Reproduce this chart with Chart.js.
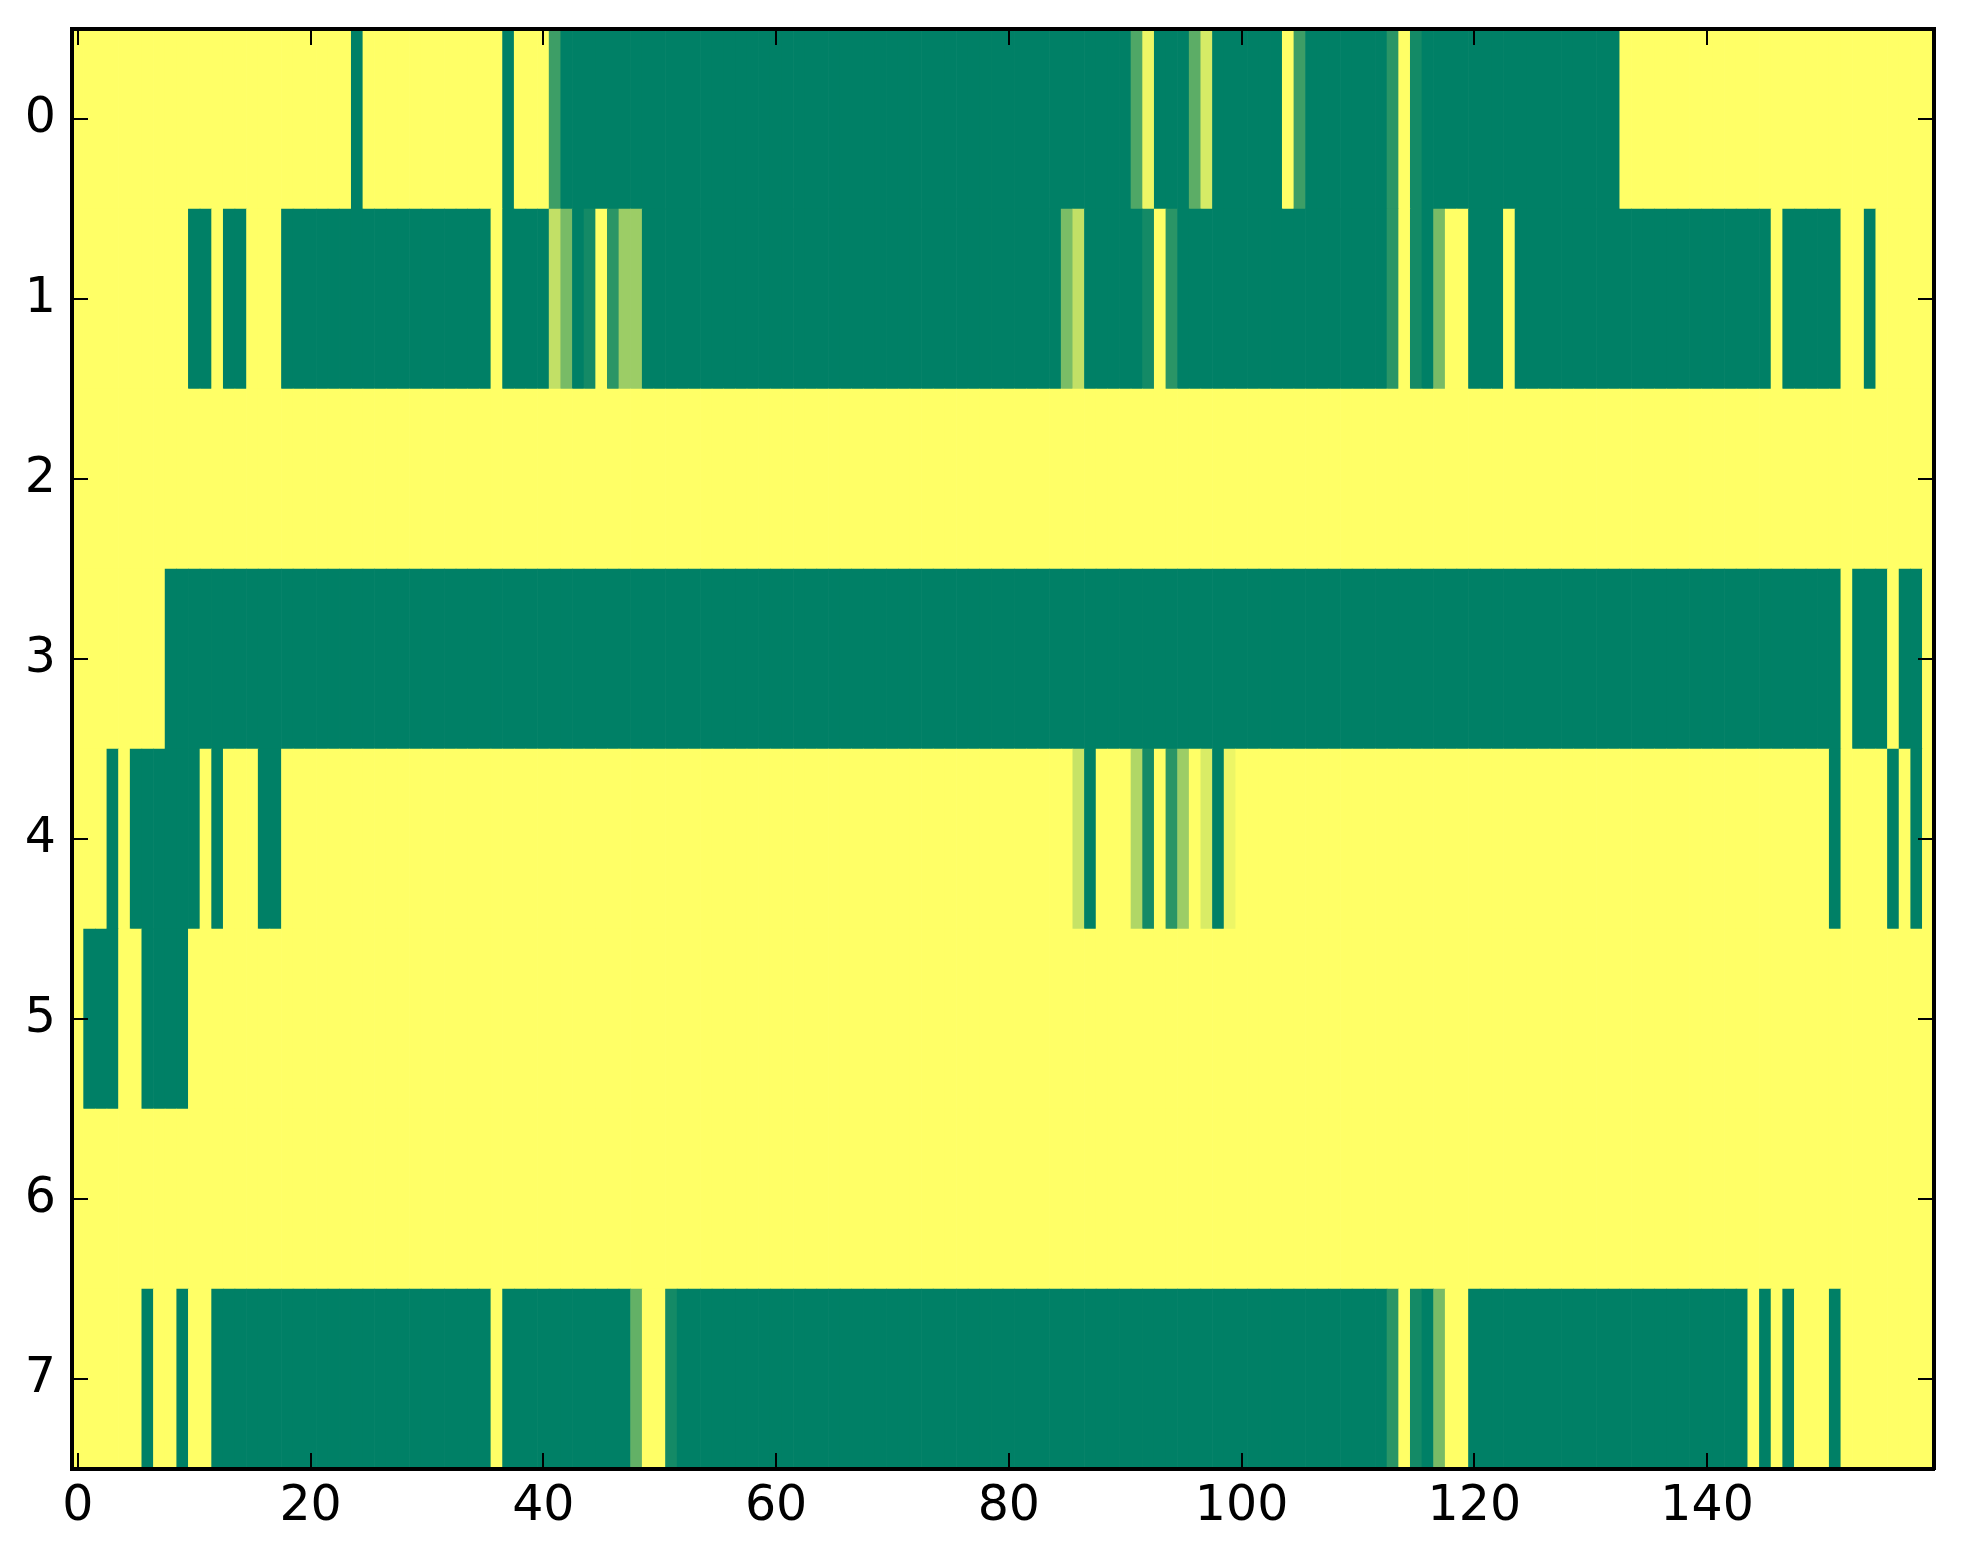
<!DOCTYPE html>
<html>
<head>
<meta charset="utf-8">
<script src="https://cdn.jsdelivr.net/npm/chart.js@4/dist/chart.umd.min.js"></script>
<style>
  html, body { margin: 0; padding: 0; background: #ffffff; }
  #wrap { width: 1963px; height: 1564px; }
</style>
</head>
<body>
<div id="wrap"><canvas id="c" width="1963" height="1564" style="width:1963px;height:1564px;"></canvas></div>
<script>
// ---- tick labels ----
const xTicks = [0, 20, 40, 60, 80, 100, 120, 140];
const yTicks = [0, 1, 2, 3, 4, 5, 6, 7];

// ---- cell values per row (160 columns each), 0 = dark green, 1 = yellow ----
const row0 = [
  1,1,1,1,1,1,1,1,1,1,1,1,1,1,1,1,1,1,1,1,
  1,1,1,1,0,1,1,1,1,1,1,1,1,1,1,1,1,0,1,1,
  1,0.24,0,0,0,0,0,0,0,0,0,0,0,0,0,0,0,0,0,0,
  0,0,0,0,0,0,0,0,0,0,0,0,0,0,0,0,0,0,0,0,
  0,0,0,0,0,0,0,0,0,0,0,0.31,0.93,0,0,0,0.36,0.84,0,0,
  0,0,0,0,1,0.24,0,0,0,0,0,0,0,0.165,1,0.08,0,0,0,0,
  0,0,0,0,0,0,0,0,0,0,0,0,0,1,1,1,1,1,1,1,
  1,1,1,1,1,1,1,1,1,1,1,1,1,1,1,1,1,1,1,1
];
const row1 = [
  1,1,1,1,1,1,1,1,1,1,0,0,1,0,0,1,1,1,0,0,
  0,0,0,0,0,0,0,0,0,0,0,0,0,0,0,0,1,0,0,0,
  0,0.76,0.47,0,0.08,1,0.165,0.61,0.61,0,0,0,0,0,0,0,0,0,0,0,
  0,0,0,0,0,0,0,0,0,0,0,0,0,0,0,0,0,0,0,0,
  0,0,0,0,0,0.48,0.76,0,0,0,0,0,0.08,1,0.165,0,0,0,0,0,
  0,0,0,0,0,0,0,0,0,0,0,0,0,0.165,1,0.08,0,0.47,1,1,
  0,0,0,1,0,0,0,0,0,0,0,0,0,0,0,0,0,0,0,0,
  0,0,0,0,0,0,1,0,0,0,0,0,1,1,0,1,1,1,1,1
];
const row2 = [
  1,1,1,1,1,1,1,1,1,1,1,1,1,1,1,1,1,1,1,1,
  1,1,1,1,1,1,1,1,1,1,1,1,1,1,1,1,1,1,1,1,
  1,1,1,1,1,1,1,1,1,1,1,1,1,1,1,1,1,1,1,1,
  1,1,1,1,1,1,1,1,1,1,1,1,1,1,1,1,1,1,1,1,
  1,1,1,1,1,1,1,1,1,1,1,1,1,1,1,1,1,1,1,1,
  1,1,1,1,1,1,1,1,1,1,1,1,1,1,1,1,1,1,1,1,
  1,1,1,1,1,1,1,1,1,1,1,1,1,1,1,1,1,1,1,1,
  1,1,1,1,1,1,1,1,1,1,1,1,1,1,1,1,1,1,1,1
];
const row3 = [
  1,1,1,1,1,1,1,1,0,0,0,0,0,0,0,0,0,0,0,0,
  0,0,0,0,0,0,0,0,0,0,0,0,0,0,0,0,0,0,0,0,
  0,0,0,0,0,0,0,0,0,0,0,0,0,0,0,0,0,0,0,0,
  0,0,0,0,0,0,0,0,0,0,0,0,0,0,0,0,0,0,0,0,
  0,0,0,0,0,0,0,0,0,0,0,0,0,0,0,0,0,0,0,0,
  0,0,0,0,0,0,0,0,0,0,0,0,0,0,0,0,0,0,0,0,
  0,0,0,0,0,0,0,0,0,0,0,0,0,0,0,0,0,0,0,0,
  0,0,0,0,0,0,0,0,0,0,0,0,1,0,0,0,1,0,0,1
];
const row4 = [
  1,1,1,0,1,0,0,0,0,0,0,1,0,1,1,1,0,0,1,1,
  1,1,1,1,1,1,1,1,1,1,1,1,1,1,1,1,1,1,1,1,
  1,1,1,1,1,1,1,1,1,1,1,1,1,1,1,1,1,1,1,1,
  1,1,1,1,1,1,1,1,1,1,1,1,1,1,1,1,1,1,1,1,
  1,1,1,1,1,1,0.78,0,1,1,1,0.69,0.08,1,0.165,0.61,1,0.85,0,0.93,
  1,1,1,1,1,1,1,1,1,1,1,1,1,1,1,1,1,1,1,1,
  1,1,1,1,1,1,1,1,1,1,1,1,1,1,1,1,1,1,1,1,
  1,1,1,1,1,1,1,1,1,1,1,0,1,1,1,1,0,1,0,1
];
const row5 = [
  1,0,0,0,1,1,0,0,0,0,1,1,1,1,1,1,1,1,1,1,
  1,1,1,1,1,1,1,1,1,1,1,1,1,1,1,1,1,1,1,1,
  1,1,1,1,1,1,1,1,1,1,1,1,1,1,1,1,1,1,1,1,
  1,1,1,1,1,1,1,1,1,1,1,1,1,1,1,1,1,1,1,1,
  1,1,1,1,1,1,1,1,1,1,1,1,1,1,1,1,1,1,1,1,
  1,1,1,1,1,1,1,1,1,1,1,1,1,1,1,1,1,1,1,1,
  1,1,1,1,1,1,1,1,1,1,1,1,1,1,1,1,1,1,1,1,
  1,1,1,1,1,1,1,1,1,1,1,1,1,1,1,1,1,1,1,1
];
const row6 = [
  1,1,1,1,1,1,1,1,1,1,1,1,1,1,1,1,1,1,1,1,
  1,1,1,1,1,1,1,1,1,1,1,1,1,1,1,1,1,1,1,1,
  1,1,1,1,1,1,1,1,1,1,1,1,1,1,1,1,1,1,1,1,
  1,1,1,1,1,1,1,1,1,1,1,1,1,1,1,1,1,1,1,1,
  1,1,1,1,1,1,1,1,1,1,1,1,1,1,1,1,1,1,1,1,
  1,1,1,1,1,1,1,1,1,1,1,1,1,1,1,1,1,1,1,1,
  1,1,1,1,1,1,1,1,1,1,1,1,1,1,1,1,1,1,1,1,
  1,1,1,1,1,1,1,1,1,1,1,1,1,1,1,1,1,1,1,1
];
const row7 = [
  1,1,1,1,1,1,0,1,1,0,1,1,0,0,0,0,0,0,0,0,
  0,0,0,0,0,0,0,0,0,0,0,0,0,0,0,0,1,0,0,0,
  0,0,0,0,0,0,0,0,0.39,1,1,0.08,0,0,0,0,0,0,0,0,
  0,0,0,0,0,0,0,0,0,0,0,0,0,0,0,0,0,0,0,0,
  0,0,0,0,0,0,0,0,0,0,0,0,0,0,0,0,0,0,0,0,
  0,0,0,0,0,0,0,0,0,0,0,0,0,0.165,1,0.08,0,0.47,1,1,
  0,0,0,0,0,0,0,0,0,0,0,0,0,0,0,0,0,0,0,0,
  0,0,0,0,1,0,1,0,1,1,1,0,1,1,1,1,1,1,1,1
];

const rows = [row0, row1, row2, row3, row4, row5, row6, row7];
const nCols = row0.length;

// matplotlib "summer" colormap
function summer(v) {
  return 'rgb(' + Math.round(255 * v) + ',' + Math.round(127.5 + 127.5 * v) + ',102)';
}

const cells = [];
const colors = [];
rows.forEach(function (row, r) {
  row.forEach(function (v, c) {
    cells.push({ x: [c - 0.5, c + 0.5], y: r });
    colors.push(summer(v));
  });
});

const tickFont = { family: 'DejaVu Sans', size: 49 };
function gridOpts() {
  return { drawOnChartArea: false, drawTicks: true, tickLength: -16, color: '#000', lineWidth: 2, offset: false, z: 1 };
}
const borderOpts = { display: true, color: '#000', width: 4, z: 1 };
function fixBox(prop, size) {
  return function (a) {
    a[prop] = size;
    a.paddingTop = 0; a.paddingBottom = 0; a.paddingLeft = 0; a.paddingRight = 0;
  };
}

new Chart(document.getElementById('c'), {
  type: 'bar',
  data: {
    datasets: [{
      data: cells,
      backgroundColor: colors,
      borderWidth: 0,
      barPercentage: 1,
      categoryPercentage: 1,
      clip: 0
    }]
  },
  options: {
    indexAxis: 'y',
    responsive: false,
    maintainAspectRatio: false,
    devicePixelRatio: 1,
    animation: false,
    events: [],
    layout: { padding: 0 },
    plugins: { legend: { display: false }, tooltip: { enabled: false } },
    scales: {
      x: {
        type: 'linear', position: 'bottom', offset: false, min: -0.5, max: nCols - 0.5,
        afterBuildTicks: function (a) { a.ticks = xTicks.map(function (v) { return { value: v }; }); },
        afterFit: fixBox('height', 95),
        ticks: { font: tickFont, color: '#000', padding: 25, maxRotation: 0, autoSkip: false },
        grid: gridOpts(), border: borderOpts
      },
      x2: {
        type: 'linear', position: 'top', offset: false, min: -0.5, max: nCols - 0.5,
        afterBuildTicks: function (a) { a.ticks = xTicks.map(function (v) { return { value: v }; }); },
        afterFit: fixBox('height', 29),
        ticks: { display: false },
        grid: gridOpts(), border: borderOpts
      },
      y: {
        type: 'linear', position: 'left', reverse: true, offset: false, min: -0.5, max: rows.length - 0.5,
        afterBuildTicks: function (a) { a.ticks = yTicks.map(function (v) { return { value: v }; }); },
        afterFit: fixBox('width', 72),
        ticks: { font: tickFont, color: '#000', padding: 32, autoSkip: false },
        grid: gridOpts(), border: borderOpts
      },
      y2: {
        type: 'linear', position: 'right', reverse: true, offset: false, min: -0.5, max: rows.length - 0.5,
        afterBuildTicks: function (a) { a.ticks = yTicks.map(function (v) { return { value: v }; }); },
        afterFit: fixBox('width', 29),
        ticks: { display: false },
        grid: gridOpts(), border: borderOpts
      }
    }
  }
});
</script>
</body>
</html>
